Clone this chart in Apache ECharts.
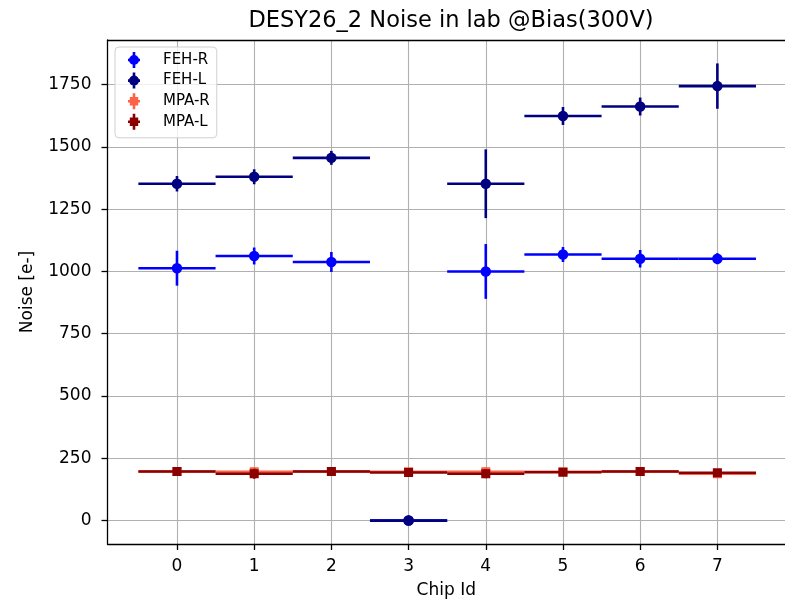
<!DOCTYPE html>
<html>
<head>
<meta charset="utf-8">
<script src="https://cdn.jsdelivr.net/npm/echarts@6/dist/echarts.min.js"></script>
<style>
  html, body { margin: 0; padding: 0; background: #fff; }
  #main { width: 785px; height: 604px; }
</style>
</head>
<body>
<div id="main"></div>
<script>
const chips = [0, 1, 2, 3, 4, 5, 6, 7];
const yTicks = [0, 250, 500, 750, 1000, 1250, 1500, 1750];

const fehR = [1013, 1062, 1038, 0, 1000, 1068, 1051, 1051];
const fehRErr = [70, 34, 40, 0, 110, 30, 35, 22];
const fehL = [1352, 1380, 1456, 0, 1352, 1624, 1662, 1744];
const fehLErr = [31, 30, 28, 0, 138, 36, 36, 91];
const mpaR = [197, 196, 197, 196, 196, 196, 197, 188];
const mpaRErr = [8, 17, 6, 8, 18, 8, 6, 10];
const mpaL = [197, 188, 197, 193, 188, 194, 197, 192];
const mpaLErr = [8, 20, 8, 10, 18, 8, 6, 12];

const FONT = 'DejaVu Sans';
const circIcon = 'path://M-1.3,-8H1.3V8H-1.3Z M-6,-1.3H6V1.3H-6Z M0,-5A5,5 0 1,1 0,5A5,5 0 1,1 0,-5Z';
const rectIcon = 'path://M-1.3,-8H1.3V8H-1.3Z M-6,-1.3H6V1.3H-6Z M-4.2,-4.2H4.2V4.2H-4.2Z';

function errRender(color) {
  return function (params, api) {
    const x = api.value(0), y = api.value(1), ex = api.value(2), ey = api.value(3);
    const l = api.coord([x - ex, y]), r = api.coord([x + ex, y]);
    const t = api.coord([x, y + ey]), b = api.coord([x, y - ey]);
    return {
      type: 'group',
      children: [
        { type: 'line', shape: { x1: l[0], y1: l[1], x2: r[0], y2: r[1] }, style: { stroke: color, lineWidth: 2.6 } },
        { type: 'line', shape: { x1: t[0], y1: t[1], x2: b[0], y2: b[1] }, style: { stroke: color, lineWidth: 2.6 } }
      ]
    };
  };
}

function makeSeries(name, vals, errs, color, symbol, size, z) {
  return [
    {
      name: name,
      type: 'custom',
      renderItem: errRender(color),
      itemStyle: { color: color },
      encode: { x: 0, y: 1 },
      data: chips.map((c, i) => [c, vals[i], 0.5, errs[i]]),
      z: z
    },
    {
      name: name,
      type: 'scatter',
      symbol: symbol,
      symbolSize: size,
      itemStyle: { color: color, opacity: 1 },
      data: chips.map((c, i) => [c, vals[i]]),
      z: z + 1
    }
  ];
}

const chart = echarts.init(document.getElementById('main'));
chart.setOption({
  animation: false,
  title: {
    text: 'DESY26_2 Noise in lab @Bias(300V)',
    left: 446,
    textAlign: 'center',
    top: 5,
    textStyle: { fontFamily: FONT, fontSize: 22.5, fontWeight: 'normal', color: '#000' }
  },
  legend: {
    orient: 'vertical',
    left: 115,
    top: 47,
    padding: [5, 7, 8, 13],
    itemGap: 4.6,
    itemWidth: 12,
    itemHeight: 16,
    borderColor: '#d0d0d0',
    borderWidth: 1,
    borderRadius: 4,
    backgroundColor: 'rgba(255,255,255,0.8)',
    textStyle: { fontFamily: FONT, fontSize: 15, color: '#000', padding: [0, 0, 0, 18] },
    data: [
      { name: 'FEH-R', icon: circIcon },
      { name: 'FEH-L', icon: circIcon },
      { name: 'MPA-R', icon: rectIcon },
      { name: 'MPA-L', icon: rectIcon }
    ]
  },
  grid: {
    left: 107.5,
    right: 0,
    top: 40,
    bottom: 57.3,
    show: false
  },
  xAxis: [
    {
      type: 'value',
      min: -0.9,
      max: 7.876,
      name: 'Chip Id',
      nameLocation: 'middle',
      nameGap: 38,
      nameTextStyle: { fontFamily: FONT, fontSize: 17, color: '#000' },
      axisLine: { onZero: false, lineStyle: { color: '#000', width: 1.3 } },
      axisTick: { customValues: chips, length: 6, lineStyle: { color: '#000', width: 1.3 } },
      axisLabel: { customValues: chips, margin: 14, fontFamily: FONT, fontSize: 17, color: '#000' },
      splitLine: { show: true, lineStyle: { color: '#b0b0b0', width: 1.1 } }
    },
    {
      type: 'value',
      position: 'top',
      min: -0.9,
      max: 7.876,
      axisLine: { show: true, onZero: false, lineStyle: { color: '#000', width: 1.3 } },
      axisTick: { show: false },
      axisLabel: { show: false },
      splitLine: { show: false }
    }
  ],
  yAxis: {
    type: 'value',
    min: -94,
    max: 1929,
    name: 'Noise [e-]',
    nameLocation: 'middle',
    nameGap: 71,
    nameTextStyle: { fontFamily: FONT, fontSize: 17, color: '#000' },
    axisLine: { show: true, onZero: false, lineStyle: { color: '#000', width: 1.3 } },
    axisTick: { show: true, customValues: yTicks, length: 6, lineStyle: { color: '#000', width: 1.3 } },
    axisLabel: { customValues: yTicks, margin: 16, fontFamily: FONT, fontSize: 17, color: '#000', formatter: v => String(v) },
    splitLine: { show: true, lineStyle: { color: '#b0b0b0', width: 1.1 } }
  },
  series: [].concat(
    makeSeries('FEH-R', fehR, fehRErr, '#0000ff', 'circle', 10.5, 2),
    makeSeries('FEH-L', fehL, fehLErr, '#000080', 'circle', 10.5, 4),
    makeSeries('MPA-R', mpaR, mpaRErr, '#ff6347', 'rect', 9, 6),
    makeSeries('MPA-L', mpaL, mpaLErr, '#8b0000', 'rect', 9, 8)
  )
});
</script>
</body>
</html>
